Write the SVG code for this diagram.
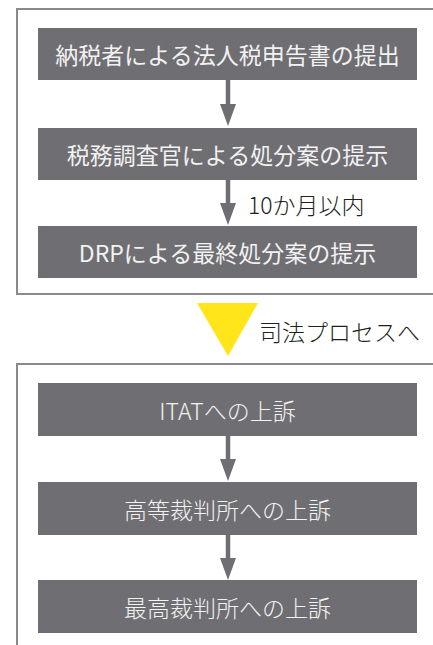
<svg xmlns="http://www.w3.org/2000/svg" width="433" height="645" viewBox="0 0 433 645">
<style>
.frame{fill:none;stroke:#8a8a8c;stroke-width:2}
.box{fill:#6f6e73}
.bt{font-family:"Noto Sans CJK JP","Liberation Sans",sans-serif;font-size:23px;fill:#f2f2f2;text-anchor:middle}
.lt{font-weight:300}
.lbl{font-family:"Noto Sans CJK JP","Liberation Sans",sans-serif;font-size:23px;font-weight:300;fill:#231f20}
.ln{stroke:#6f6e73;stroke-width:4.5;fill:none}
</style>
<rect class="frame" x="17" y="9" width="440" height="285"/>
<rect class="frame" x="17" y="364" width="440" height="300"/>
<g id="connectors">
<line class="ln" x1="228" y1="80" x2="228" y2="105"/><path d="M220,104 L236,104 L228,126 Z" fill="#6f6e73"/>
<line class="ln" x1="228" y1="180" x2="228" y2="204"/><path d="M220,203 L236,203 L228,225 Z" fill="#6f6e73"/>
<line class="ln" x1="228" y1="436" x2="228" y2="460"/><path d="M220,459 L236,459 L228,481 Z" fill="#6f6e73"/>
<line class="ln" x1="228" y1="535" x2="228" y2="559"/><path d="M220,558 L236,558 L228,580 Z" fill="#6f6e73"/>
<text class="lbl" x="248" y="214">10か月以内</text>
</g>
<g id="transition">
<path d="M197,303 L258,303 L228,356 Z" fill="#ffe51a"/>
<text class="lbl" x="259" y="341">司法プロセスへ</text>
</g>
<g id="n1"><rect class="box" x="38" y="28" width="379" height="52"/><text class="bt" x="227.5" y="64">納税者による法人税申告書の提出</text></g>
<g id="n2"><rect class="box" x="38" y="128" width="379" height="52"/><text class="bt" x="227.5" y="164">税務調査官による処分案の提示</text></g>
<g id="n3"><rect class="box" x="38" y="226" width="379" height="52"/><text class="bt" x="227.5" y="262">DRPによる最終処分案の提示</text></g>
<g id="n4"><rect class="box" x="38" y="383" width="379" height="53"/><text class="bt lt" x="227.5" y="420">ITATへの上訴</text></g>
<g id="n5"><rect class="box" x="38" y="482" width="379" height="53"/><text class="bt lt" x="227.5" y="519">高等裁判所への上訴</text></g>
<g id="n6"><rect class="box" x="38" y="580" width="379" height="53"/><text class="bt lt" x="227.5" y="617">最高裁判所への上訴</text></g>
</svg>
